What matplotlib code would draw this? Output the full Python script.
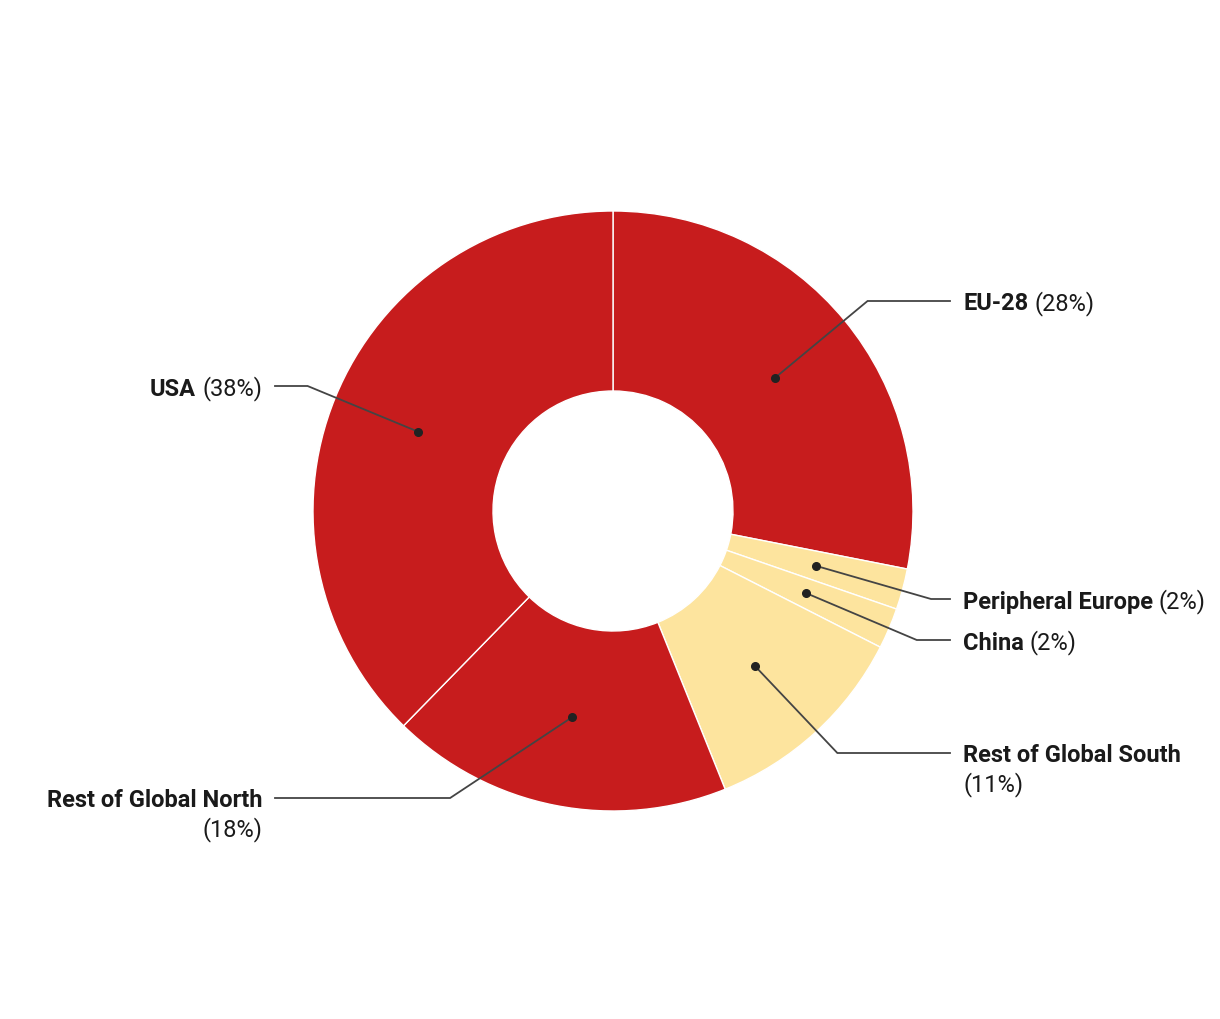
import numpy as np
import matplotlib
matplotlib.use("Agg")
import matplotlib.pyplot as plt

# ---- data ----
categories = ["EU-28", "Peripheral Europe", "China", "Rest of Global South",
              "Rest of Global North", "USA"]
shares = [28.1, 2.2, 2.2, 11.4, 18.4, 37.7]
pct_labels = ["(28%)", "(2%)", "(2%)", "(11%)", "(18%)", "(38%)"]
colors = ["#C71C1D", "#FDE49E", "#FDE49E", "#FDE49E", "#C71C1D", "#C71C1D"]

# ---- layout (pixels) ----
W, H = 1220, 1020
cx, cy_px = 613, 512
R_OUT, R_IN = 300, 120
R_DOT, R_ELBOW = 210, 330
label_y_px = [302, 600, 641, 754, 799, 387]
two_line = [False, False, False, True, True, False]
RIGHT_LINE_END, RIGHT_TEXT_X = 950, 963
LEFT_LINE_END, LEFT_TEXT_X = 275, 262
FS = 17
TEXT_DY = 2
FONT = "Roboto"

plt.rcParams["font.family"] = [FONT, "DejaVu Sans"]
fig = plt.figure(figsize=(W / 100, H / 100), dpi=100)
ax = fig.add_axes([0, 0, 1, 1])
ax.set_xlim(0, W)
ax.set_ylim(0, H)
ax.set_aspect("equal")
ax.axis("off")

cy = H - cy_px
wedges, _ = ax.pie(shares, colors=colors, startangle=90, counterclock=False,
                   radius=R_OUT, center=(cx, cy),
                   wedgeprops=dict(width=R_OUT - R_IN, edgecolor="white", linewidth=1))
ax.set_xlim(0, W)
ax.set_ylim(0, H)

fig.canvas.draw()
renderer = fig.canvas.get_renderer()
inv = ax.transData.inverted()

def text_width(t):
    bb = t.get_window_extent(renderer)
    p0 = inv.transform((bb.x0, bb.y0))
    p1 = inv.transform((bb.x1, bb.y1))
    return p1[0] - p0[0]

line_col = "#444444"
txt_col = "#1a1a1a"
LINE_H = 29
for w, name, pct, ly_px, tl in zip(wedges, categories, pct_labels, label_y_px, two_line):
    mid = np.deg2rad((w.theta1 + w.theta2) / 2)
    dx, dy = np.cos(mid), np.sin(mid)
    dot = (cx + R_DOT * dx, cy + R_DOT * dy)
    ly = H - ly_px
    right = dx > 0
    ey = ly
    ex_off = np.sqrt(max(R_ELBOW ** 2 - (ey - cy) ** 2, 0))
    ex = cx + ex_off if right else cx - ex_off
    end_x = RIGHT_LINE_END if right else LEFT_LINE_END
    ax.plot([dot[0], ex, end_x], [dot[1], ey, ey], color=line_col, lw=1.3,
            solid_joinstyle="miter", zorder=3)
    ax.plot(dot[0], dot[1], "o", color="#222222", ms=5.5, zorder=4)

    ty = ly - TEXT_DY
    if right:
        t = ax.text(RIGHT_TEXT_X, ty, name, fontsize=FS, fontweight="bold",
                    color=txt_col, ha="left", va="center")
        if tl:
            ax.text(RIGHT_TEXT_X, ty - LINE_H, pct, fontsize=FS, color=txt_col,
                    ha="left", va="center")
        else:
            wname = text_width(t)
            ax.text(RIGHT_TEXT_X + wname + 6, ty, pct, fontsize=FS, color=txt_col,
                    ha="left", va="center")
    else:
        if tl:
            ax.text(LEFT_TEXT_X, ty, name, fontsize=FS, fontweight="bold",
                    color=txt_col, ha="right", va="center")
            ax.text(LEFT_TEXT_X, ty - LINE_H, pct, fontsize=FS, color=txt_col,
                    ha="right", va="center")
        else:
            tp = ax.text(LEFT_TEXT_X, ty, pct, fontsize=FS, color=txt_col,
                         ha="right", va="center")
            wp = text_width(tp)
            ax.text(LEFT_TEXT_X - wp - 6, ty, name, fontsize=FS, fontweight="bold",
                    color=txt_col, ha="right", va="center")

fig.savefig("out.png", dpi=100, facecolor="white")
